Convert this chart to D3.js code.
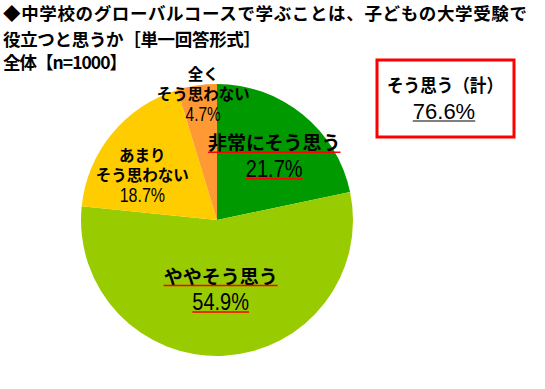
<!DOCTYPE html>
<html>
<head>
<meta charset="utf-8">
<script src="https://cdn.jsdelivr.net/npm/d3@7"></script>
<style>
  body { margin: 0; background: #fff; }
  svg { display: block; font-family: "Noto Sans CJK JP", sans-serif; }
</style>
</head>
<body>
<svg id="chart" width="545" height="389"></svg>
<script>
// データ
const categories = ["非常にそう思う", "ややそう思う", "あまり\nそう思わない", "全く\nそう思わない"];
const values = [21.7, 54.9, 18.7, 4.7];
const titleLines = ["◆中学校のグローバルコースで学ぶことは、子どもの大学受験で", "役立つと思うか［単一回答形式］", "全体【n=1000】"];
const totalLabel = "そう思う（計）";
const totalValue = 76.6;

const colors = ["#009900", "#99cc00", "#ffcc00", "#ff9933"];

const svg = d3.select("#chart");
const cx = 217, cy = 220, r = 136;
const numFont = "'Liberation Sans', Arial, sans-serif";

// タイトル（行ごとの幅）
const titleWidth = [524, 258, 124];
svg.append("g").selectAll("text")
  .data(titleLines)
  .join("text")
  .attr("x", 3)
  .attr("y", (d, i) => [12, 38, 61][i])
  .attr("dominant-baseline", "central")
  .attr("font-size", 17.5)
  .attr("font-weight", "bold")
  .attr("textLength", (d, i) => titleWidth[i])
  .attr("lengthAdjust", "spacing")
  .text(d => d);

// 円グラフ
const pie = d3.pie().sort(null).value(d => d);
const arcs = pie(values);
const arc = d3.arc().innerRadius(0).outerRadius(r);

const g = svg.append("g").attr("transform", `translate(${cx},${cy})`);
g.selectAll("path")
  .data(arcs)
  .join("path")
  .attr("d", arc)
  .attr("fill", (d, i) => colors[i]);

// ラベル配置（半径と微調整）
const labelRadius = [86, 68.6, 85, 128];
const labelNudge = [[3, 2], [0, 0], [-9, 8], [5, 0]];
arcs.forEach((a, i) => {
  const mid = (a.startAngle + a.endAngle) / 2;
  const lx = Math.sin(mid) * labelRadius[i] + labelNudge[i][0];
  const ly = -Math.cos(mid) * labelRadius[i] + labelNudge[i][1];
  const lines = categories[i].split("\n");
  const big = i < 2;
  const lineH = big ? 27 : 20.5;
  const n = lines.length + 1;
  const top = ly - (n - 1) * lineH / 2;
  const lg = g.append("g");
  const names = lines.map((t, k) => lg.append("text")
      .attr("x", lx).attr("y", top + k * lineH)
      .attr("text-anchor", "middle").attr("dominant-baseline", "central")
      .attr("font-size", big ? 19 : 15.5).attr("font-weight", "bold")
      .text(t));
  const py = top + lines.length * lineH;
  const sy = big ? 1.15 : 1.3;
  const pct = lg.append("text")
    .attr("transform", `translate(${lx},${py}) scale(1,${sy})`)
    .attr("text-anchor", "middle").attr("dominant-baseline", "central")
    .attr("font-size", big ? 20 : (i === 2 ? 16 : 15.4))
    .attr("font-family", numFont)
    .text(values[i].toFixed(1) + "%");
  if (big) {
    // 赤い下線
    names.forEach(t => {
      const b = t.node().getBBox();
      lg.append("line")
        .attr("x1", b.x).attr("x2", b.x + b.width)
        .attr("y1", top + 10.5).attr("y2", top + 10.5)
        .attr("stroke", "#ff0000").attr("stroke-width", 1.5);
    });
    const pb = pct.node().getBBox();
    lg.append("line")
      .attr("x1", lx + pb.x).attr("x2", lx + pb.x + pb.width)
      .attr("y1", py + 10).attr("y2", py + 10)
      .attr("stroke", "#ff0000").attr("stroke-width", 1.5);
  }
});

// 合計ボックス
svg.append("rect")
  .attr("x", 377).attr("y", 60).attr("width", 137).attr("height", 77)
  .attr("fill", "#fff").attr("stroke", "#ff0000").attr("stroke-width", 3);
svg.append("text")
  .attr("x", 387).attr("y", 84)
  .attr("dominant-baseline", "central")
  .attr("font-size", 18).attr("font-weight", "bold")
  .attr("textLength", 116).attr("lengthAdjust", "spacingAndGlyphs")
  .text(totalLabel);
const tv = svg.append("text")
  .attr("x", 444).attr("y", 111)
  .attr("text-anchor", "middle").attr("dominant-baseline", "central")
  .attr("font-size", 22)
  .attr("font-family", numFont)
  .text(totalValue.toFixed(1) + "%");
const tb = tv.node().getBBox();
svg.append("line")
  .attr("x1", tb.x).attr("x2", tb.x + tb.width)
  .attr("y1", 121).attr("y2", 121)
  .attr("stroke", "#000").attr("stroke-width", 1.2);
</script>
</body>
</html>
